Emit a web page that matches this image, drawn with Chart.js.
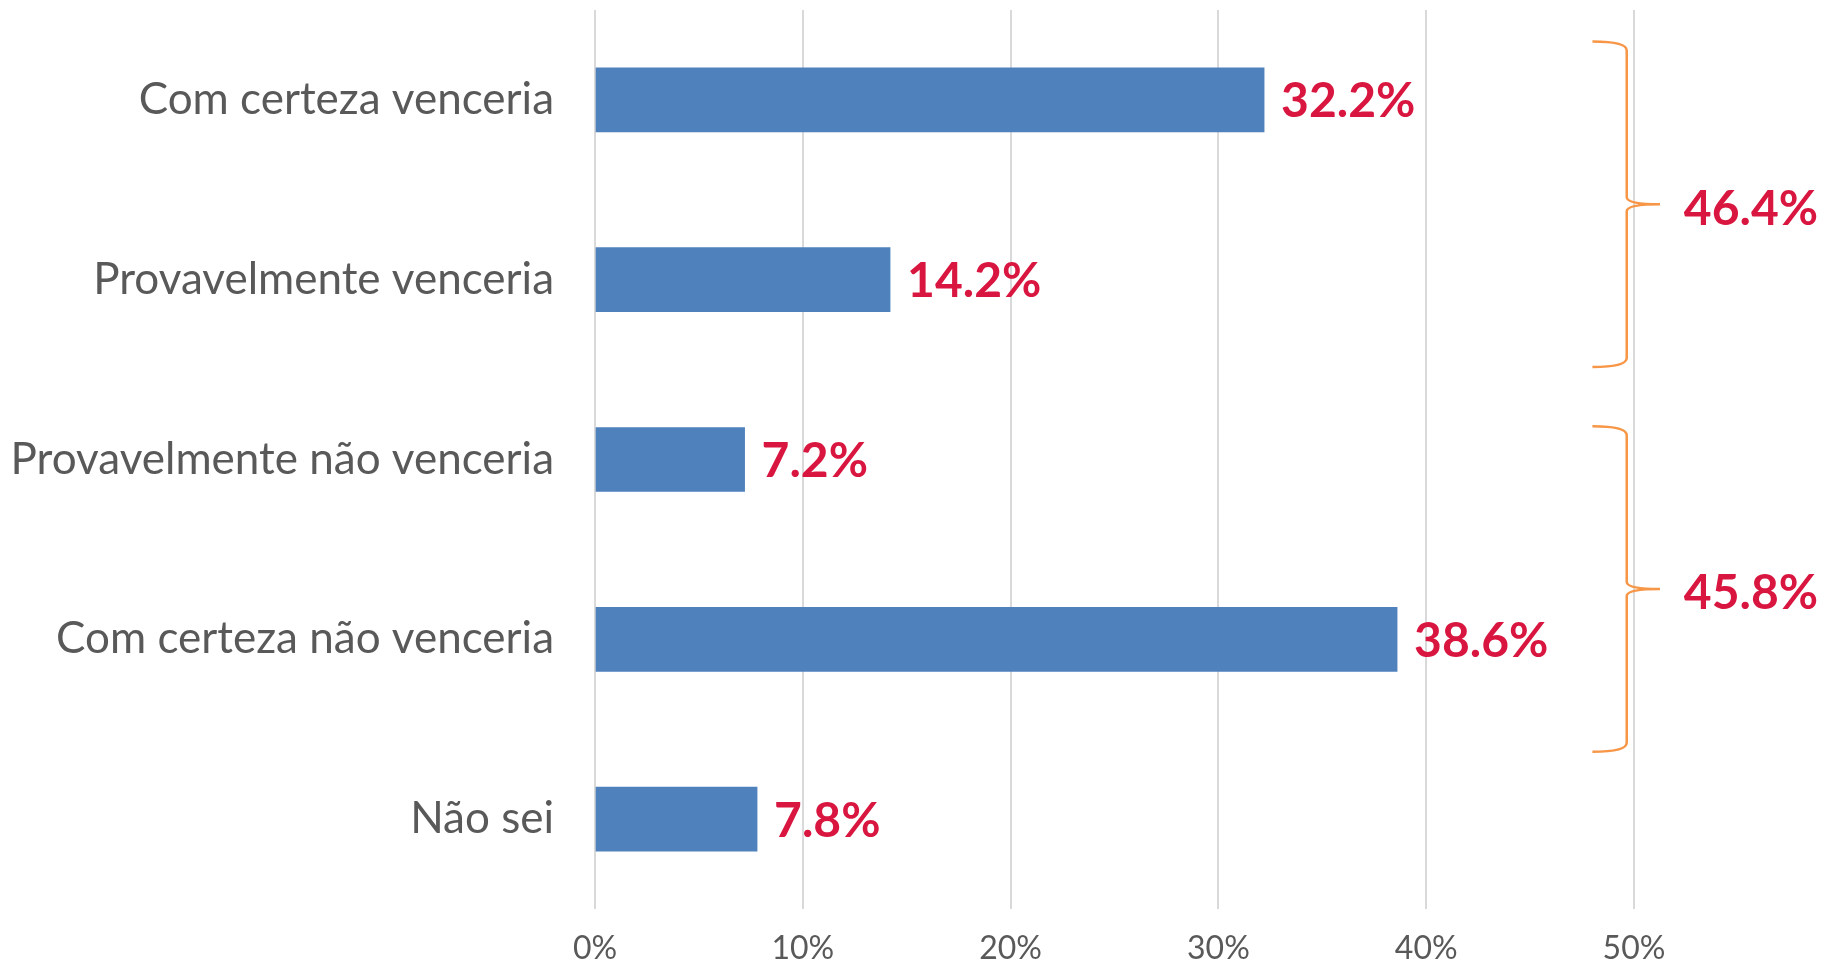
<!DOCTYPE html>
<html>
<head>
<meta charset="utf-8">
<script src="https://cdn.jsdelivr.net/npm/chart.js@4"></script>
<style>
  html, body { margin: 0; padding: 0; background: #fff; }
  #chart { display: block; }
</style>
</head>
<body>
<canvas id="chart" width="1832" height="966"></canvas>
<script>
// Survey answers and their shares (%)
const categories = [
  'Com certeza venceria',
  'Provavelmente venceria',
  'Provavelmente não venceria',
  'Com certeza não venceria',
  'Não sei'
];
const shares = [32.2, 14.2, 7.2, 38.6, 7.8];
const xTicks = [0, 10, 20, 30, 40, 50];

// grouped totals shown beside the braces
const groupFirst = [0, 2];
const groupLast = [1, 3];
const groupLabels = ['46.4%', '45.8%'];

const RED = '#D9163F';
const GREY = '#595959';
// the braces were placed by hand, each a bit lower than its group
const braceShift = [0.08, 0.22];

// value labels at the end of each bar
const barLabels = {
  id: 'barLabels',
  afterDatasetsDraw(chart) {
    const c = chart.ctx;
    const meta = chart.getDatasetMeta(0);
    c.save();
    c.font = 'bold 48px Lato';
    c.fillStyle = RED;
    c.textAlign = 'left';
    c.textBaseline = 'middle';
    meta.data.forEach((bar, i) => {
      c.fillText(shares[i].toFixed(1) + '%', bar.x + 17, bar.y + 2);
    });
    c.restore();
  }
};

// curly braces on the right with the group totals
const braces = {
  id: 'braces',
  afterDraw(chart) {
    const c = chart.ctx;
    const x = chart.scales.x, y = chart.scales.y;
    const xL = x.getPixelForValue(48.0);
    const xV = x.getPixelForValue(49.65);
    const xT = x.getPixelForValue(51.25);
    c.save();
    groupFirst.forEach((first, g) => {
      const yT = y.getPixelForValue(first - 0.405 + braceShift[g]);
      const yB = y.getPixelForValue(groupLast[g] + 0.405 + braceShift[g]);
      const yM = (yT + yB) / 2;
      c.beginPath();
      c.strokeStyle = '#F79646';
      c.lineWidth = 2.5;
      c.moveTo(xL, yT);
      c.quadraticCurveTo(xV, yT, xV, yT + 9);
      c.lineTo(xV, yM - 7);
      c.quadraticCurveTo(xV, yM, xT, yM);
      c.quadraticCurveTo(xV, yM, xV, yM + 7);
      c.lineTo(xV, yB - 9);
      c.quadraticCurveTo(xV, yB, xL, yB);
      c.stroke();

      c.font = 'bold 48px Lato';
      c.fillStyle = RED;
      c.textAlign = 'left';
      c.textBaseline = 'middle';
      c.fillText(groupLabels[g], x.getPixelForValue(52.4), yM + 5);
    });
    c.restore();
  }
};

function noEdgePadding(scale) {
  scale.paddingTop = 0;
  scale.paddingBottom = 0;
  scale.paddingLeft = 0;
  scale.paddingRight = 0;
}

new Chart(document.getElementById('chart'), {
  type: 'bar',
  data: {
    labels: categories,
    datasets: [{
      data: shares,
      backgroundColor: '#4F81BD',
      borderWidth: 0,
      barThickness: 64
    }]
  },
  options: {
    indexAxis: 'y',
    responsive: false,
    devicePixelRatio: 1,
    animation: false,
    layout: { padding: { top: 10, right: 198, left: 0, bottom: 0 } },
    plugins: {
      legend: { display: false },
      tooltip: { enabled: false }
    },
    scales: {
      x: {
        min: 0,
        max: 50,
        afterBuildTicks(scale) {
          scale.ticks = xTicks.map(v => ({ value: v }));
        },
        afterFit(scale) { scale.height = 57; noEdgePadding(scale); },
        border: { display: false },
        grid: { color: '#D9D9D9', lineWidth: 2, drawTicks: false },
        ticks: {
          padding: 20,
          color: GREY,
          font: { family: 'Lato', size: 32 },
          callback: v => v + '%'
        }
      },
      y: {
        afterFit(scale) { scale.width = 595; noEdgePadding(scale); },
        border: { display: false },
        grid: { display: false, drawTicks: false },
        ticks: {
          padding: 41,
          color: GREY,
          font: { family: 'Lato', size: 44 }
        }
      }
    }
  },
  plugins: [barLabels, braces]
});
</script>
</body>
</html>
